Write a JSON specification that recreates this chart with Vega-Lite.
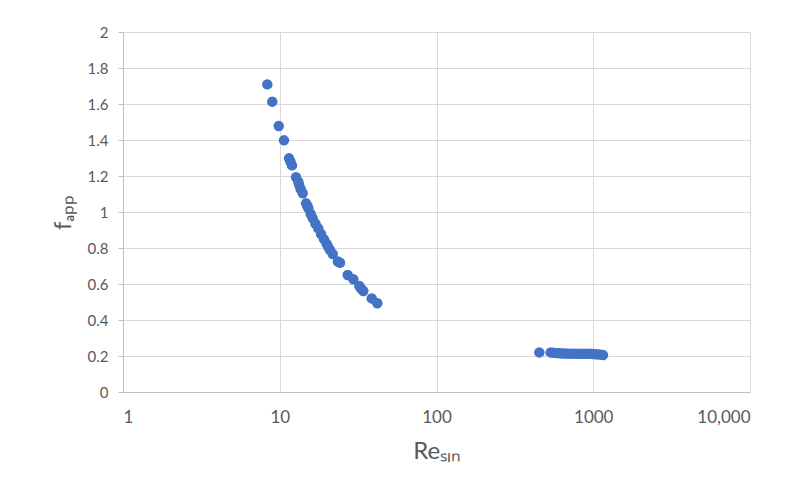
{
  "$schema": "https://vega.github.io/schema/vega-lite/v6.json",
  "width": 627,
  "height": 360,
  "autosize": {"type": "none"},
  "padding": {"left": 123, "top": 32, "right": 35, "bottom": 101},
  "background": "white",
  "config": {
    "view": {"stroke": null},
    "font": "Lato"
  },
  "data": {
    "values": [
      {"Re": 8.33, "f": 1.709},
      {"Re": 8.96, "f": 1.613},
      {"Re": 9.85, "f": 1.478},
      {"Re": 10.64, "f": 1.398},
      {"Re": 11.46, "f": 1.298},
      {"Re": 11.97, "f": 1.259},
      {"Re": 11.7, "f": 1.28},
      {"Re": 12.7, "f": 1.193},
      {"Re": 13.13, "f": 1.168},
      {"Re": 13.61, "f": 1.126},
      {"Re": 14.01, "f": 1.104},
      {"Re": 13.3, "f": 1.15},
      {"Re": 14.71, "f": 1.048},
      {"Re": 15.21, "f": 1.021},
      {"Re": 15.76, "f": 0.989},
      {"Re": 16.23, "f": 0.965},
      {"Re": 15.0, "f": 1.035},
      {"Re": 16.9, "f": 0.935},
      {"Re": 17.62, "f": 0.909},
      {"Re": 18.33, "f": 0.878},
      {"Re": 19.16, "f": 0.848},
      {"Re": 19.93, "f": 0.822},
      {"Re": 20.92, "f": 0.789},
      {"Re": 21.77, "f": 0.767},
      {"Re": 20.4, "f": 0.805},
      {"Re": 24.24, "f": 0.718},
      {"Re": 23.5, "f": 0.725},
      {"Re": 27.13, "f": 0.65},
      {"Re": 29.46, "f": 0.626},
      {"Re": 32.18, "f": 0.589},
      {"Re": 34.12, "f": 0.561},
      {"Re": 33.0, "f": 0.575},
      {"Re": 38.61, "f": 0.52},
      {"Re": 41.92, "f": 0.493},
      {"Re": 453, "f": 0.22},
      {"Re": 535, "f": 0.22},
      {"Re": 560, "f": 0.218},
      {"Re": 590, "f": 0.216},
      {"Re": 614, "f": 0.215},
      {"Re": 640, "f": 0.214},
      {"Re": 670, "f": 0.214},
      {"Re": 700, "f": 0.213},
      {"Re": 732, "f": 0.213},
      {"Re": 765, "f": 0.213},
      {"Re": 799, "f": 0.213},
      {"Re": 835, "f": 0.212},
      {"Re": 873, "f": 0.212},
      {"Re": 910, "f": 0.212},
      {"Re": 953, "f": 0.212},
      {"Re": 995, "f": 0.211},
      {"Re": 1042, "f": 0.21},
      {"Re": 1095, "f": 0.208},
      {"Re": 1154, "f": 0.205}
    ]
  },
  "mark": {"type": "point", "filled": true, "shape": "circle", "size": 110, "color": "#4472C4", "opacity": 1},
  "encoding": {
    "x": {
      "field": "Re",
      "type": "quantitative",
      "scale": {"type": "log", "domain": [1, 10000], "nice": false},
      "axis": {
        "values": [1, 10, 100, 1000, 10000],
        "labelExpr": "datum.value == 10000 ? '10,000' : format(datum.value, 'd')",
        "title": "Reₛᵢₙ",
        "titleFont": "Lato",
        "titleFontSize": 24,
        "titleFontWeight": "normal",
        "titleColor": "#595959",
        "titlePadding": 14,
        "labelFontSize": 17,
        "labelColor": "#595959",
        "labelPadding": 17,
        "ticks": false,
        "domainColor": "#BFBFBF",
        "gridColor": "#D9D9D9",
        "grid": true
      }
    },
    "y": {
      "field": "f",
      "type": "quantitative",
      "scale": {"domain": [0, 2], "nice": false},
      "axis": {
        "values": [0, 0.2, 0.4, 0.6, 0.8, 1, 1.2, 1.4, 1.6, 1.8, 2],
        "labelExpr": "format(datum.value, '.1~f')",
        "title": "fₐₚₚ",
        "titleFont": "Lato",
        "titleFontSize": 24,
        "titleFontWeight": "normal",
        "titleColor": "#595959",
        "titlePadding": 12,
        "labelFontSize": 15,
        "labelColor": "#595959",
        "labelPadding": 10,
        "tickSize": 5,
        "tickColor": "#BFBFBF",
        "domainColor": "#BFBFBF",
        "gridColor": "#D9D9D9",
        "grid": true
      }
    }
  }
}
